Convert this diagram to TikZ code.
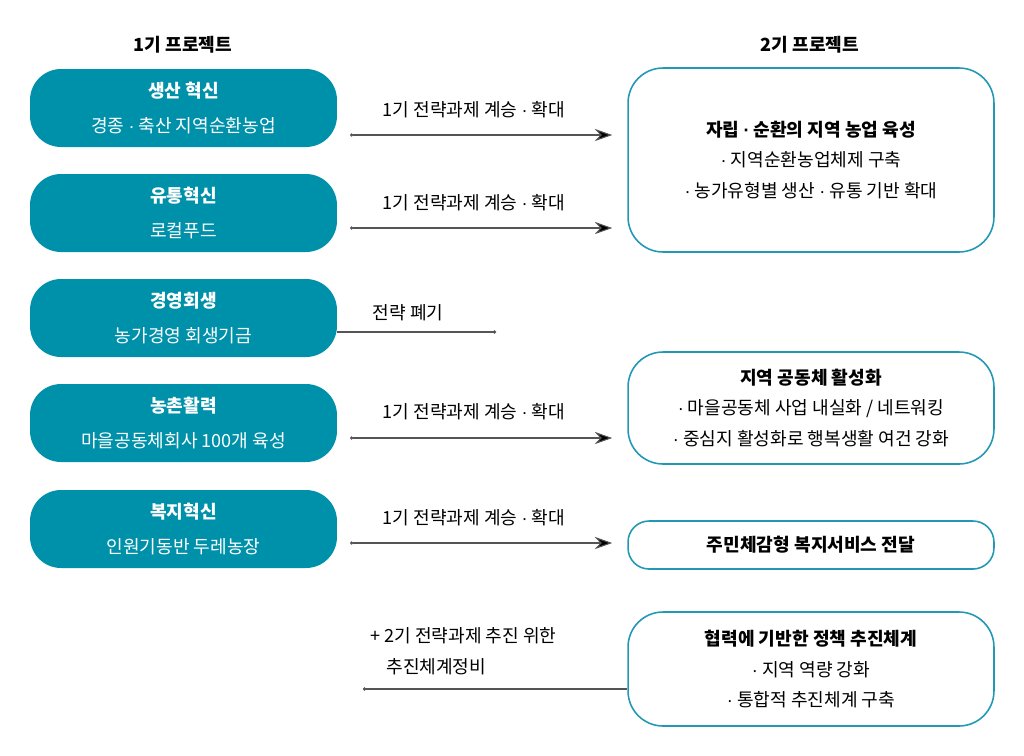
\documentclass[tikz,border=0pt]{standalone}
\usepackage{fontspec}
\setmainfont{Noto Sans CJK KR}
\newfontfamily\dotfont{Liberation Sans}
\newcommand\mdot{{\dotfont ·}}
\usepackage{tikz}
\usetikzlibrary{arrows.meta,calc}
\definecolor{tealfill}{RGB}{0,145,170}
\definecolor{tealline}{RGB}{35,152,180}
\definecolor{linegray}{RGB}{85,85,85}
\tikzset{
  oldbox/.style={fill=tealfill,draw=none,rounded corners=0.62cm,minimum width=6.14cm,
    minimum height=1.56cm,text=white,align=center,font=\fontsize{10.3}{19.5}\selectfont},
  newbox/.style={draw=tealline,line width=0.9pt,fill=white,rounded corners=0.7cm,
    minimum width=7.32cm,align=center,font=\fontsize{10.3}{17.6}\selectfont},
  tag/.style={font=\fontsize{10.3}{17.6}\selectfont,inner sep=0pt},
  head/.style={font=\bfseries\fontsize{10.3}{12}\selectfont},
  arrow/.style={draw=linegray,line width=0.6pt,{Circle[length=1.8pt]}-{Stealth[length=10pt,width=7pt,fill=black]}},
  link/.style={draw=linegray,line width=0.8pt}
}
\begin{document}
\begin{tikzpicture}[x=0.02cm,y=-0.02cm]
     \useasboundingbox (0,0) rectangle (1024,755);
     %제목
     \node[head] (h1) at (183,45) {1기 프로젝트};
     \node[head] (h2) at (810,45) {2기 프로젝트};
     
     %1기
     \node[oldbox] (p1) at (183.5,108) {{\bfseries 생산 혁신}\\경종 \mdot{} 축산 지역순환농업};
     \node[oldbox] (p2) at (183.5,213) {{\bfseries 유통혁신}\\로컬푸드};
     \node[oldbox] (p3) at (183.5,318) {{\bfseries 경영회생}\\농가경영 회생기금};
     \node[oldbox] (p4) at (183.5,423) {{\bfseries 농촌활력}\\마을공동체회사 100개 육성};
     \node[oldbox] (p5) at (183.5,529) {{\bfseries 복지혁신}\\인원기동반 두레농장};
     
     %2기
     \node[newbox,minimum height=3.68cm] (q1) at (811,160)
       {{\bfseries 자립 \mdot{} 순환의 지역 농업 육성}\\\mdot{} 지역순환농업체제 구축\\\mdot{} 농가유형별 생산 \mdot{} 유통 기반 확대};
     \node[newbox,minimum height=2.24cm] (q2) at (811,408)
       {{\bfseries 지역 공동체 활성화}\\\mdot{} 마을공동체 사업 내실화 / 네트워킹\\\mdot{} 중심지 활성화로 행복생활 여건 강화};
     \node[newbox,minimum height=0.96cm,rounded corners=0.42cm] (q3) at (811,545)
       {{\bfseries 주민체감형 복지서비스 전달}};
     \node[newbox,minimum height=2.28cm] (q4) at (811,669)
       {{\bfseries 협력에 기반한 정책 추진체계}\\\mdot{} 지역 역량 강화\\\mdot{} 통합적 추진체계 구축};
     
     %연결
     \coordinate (s1) at (350,135);
     \coordinate (s2) at (350,228);
     \coordinate (s4) at (350,438);
     \coordinate (s5) at (350,543);
     \draw[arrow] (s1) -- ($(s1 -| q1.west)+(-15,0)$);
     \draw[arrow] (s2) -- ($(s2 -| q1.west)+(-15,0)$);
     \draw[arrow] (s4) -- ($(s4 -| q2.west)+(-15,0)$);
     \draw[arrow] (s5) -- ($(s5 -| q3.west)+(-15,0)$);
     \node[tag] (t1) at (474,110) {1기 전략과제 계승 \mdot{} 확대};
     \node[tag] (t2) at (474,203) {1기 전략과제 계승 \mdot{} 확대};
     \node[tag] (t4) at (474,412) {1기 전략과제 계승 \mdot{} 확대};
     \node[tag] (t5) at (474,518) {1기 전략과제 계승 \mdot{} 확대};
     
     \coordinate (d3) at (496,332);
     \draw[link,-{Circle[length=1.8pt]}] (p3.east |- d3) -- (d3);
     \node[tag] (t3) at (408,313) {전략 폐기};
     
     \coordinate (d6) at (363,689);
     \draw[link,{Circle[length=1.8pt]}-] (d6) -- (q4.west |- d6);
     \node[tag,anchor=west] (t6) at (370,636) {+ 2기 전략과제 추진 위한};
     \node[tag,anchor=west] (t7) at (386,667) {추진체계정비};
\end{tikzpicture}
\end{document}
